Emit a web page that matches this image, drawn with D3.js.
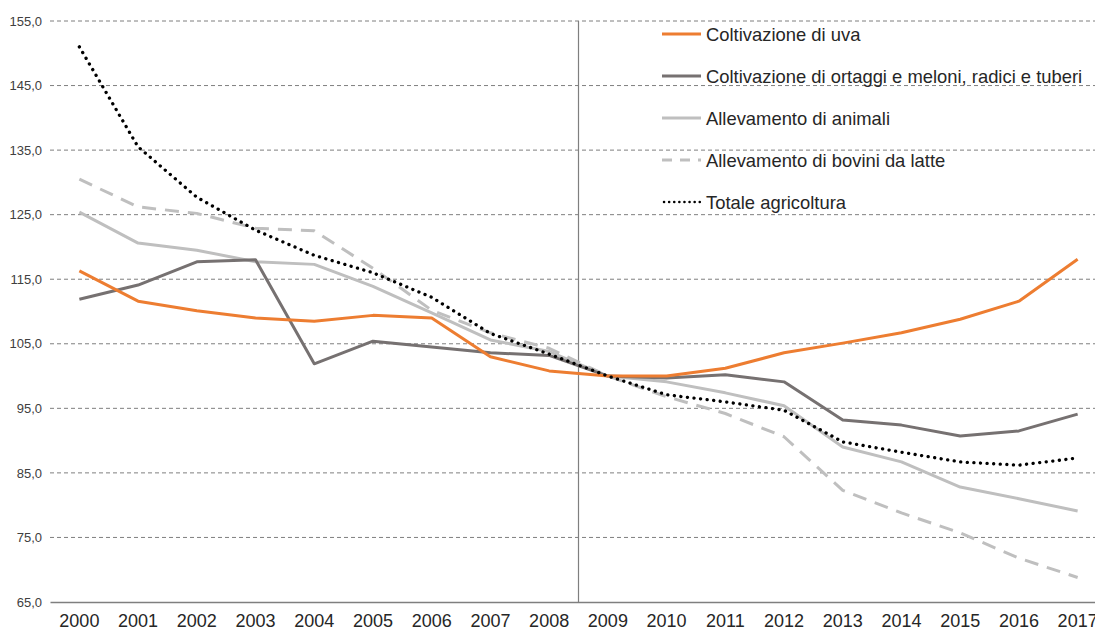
<!DOCTYPE html>
<html>
<head>
<meta charset="utf-8">
<script src="https://cdn.jsdelivr.net/npm/d3@7"></script>
<style>
  body { margin: 0; background: #fff; }
  text { font-family: "Liberation Sans", Arial, sans-serif; }
</style>
</head>
<body>
<svg></svg>
<script>
// data
var years = ["2000","2001","2002","2003","2004","2005","2006","2007","2008",
             "2009","2010","2011","2012","2013","2014","2015","2016","2017"];

var uva      = [116.3,111.6,110.1,109.0,108.5,109.4,109.0,103.0,100.8,100.0,100.0,101.2,103.6,105.1,106.7,108.8,111.6,118.1];
var ortaggi  = [111.9,114.1,117.7,118.0,101.9,105.4,104.5,103.6,103.2,100.0,99.7,100.2,99.1,93.2,92.4,90.7,91.5,94.1];
var animali  = [125.4,120.6,119.5,117.7,117.3,113.9,109.8,105.6,103.8,100.0,99.1,97.4,95.4,89.0,86.7,82.8,81.0,79.1];
var bovini   = [130.5,126.2,125.2,122.9,122.5,116.7,110.2,106.7,104.3,100.0,96.8,94.2,90.6,82.3,78.8,75.7,71.8,68.8];
var totale   = [151.0,135.5,127.7,122.6,118.7,116.0,112.2,106.6,103.4,100.0,97.1,96.0,94.7,89.8,88.2,86.7,86.2,87.3];

var yTicks = [65,75,85,95,105,115,125,135,145,155];

var seriesNames = ["Coltivazione di uva",
                   "Coltivazione di ortaggi e meloni, radici e tuberi",
                   "Allevamento di animali",
                   "Allevamento di bovini da latte",
                   "Totale agricoltura"];
var seriesValues = [uva, ortaggi, animali, bovini, totale];

//measurements
var screen = {width:1095, height:630};
var margins = {top:21, left:50, bottom:28};

var svg = d3.select("svg")
            .attr("width", screen.width)
            .attr("height", screen.height);

//scales
var xScale = d3.scaleBand()
               .domain(years)
               .range([margins.left, 1107]);

var yScale = d3.scaleLinear()
               .domain([65, 155])
               .range([screen.height - margins.bottom, margins.top]);

var fmt = function(v){ return d3.format(".1f")(v).replace(".", ","); };

//grid
svg.append("g")
   .selectAll("line")
   .data(yTicks.slice(1))
   .enter()
   .append("line")
   .attr("x1", margins.left)
   .attr("x2", screen.width)
   .attr("y1", function(d){return yScale(d)})
   .attr("y2", function(d){return yScale(d)})
   .attr("stroke", "#7f7f7f")
   .attr("stroke-width", 1)
   .attr("stroke-dasharray", "4,3");

//y labels
var yAxis = svg.append("g")
               .attr("transform", "translate(" + margins.left + ",0)")
               .call(d3.axisLeft(yScale).tickValues(yTicks).tickFormat(fmt).tickSize(0).tickPadding(8));
yAxis.select(".domain").remove();
yAxis.selectAll("text")
     .attr("font-size", 13)
     .attr("fill", "#404040")
     .style("font-family", "Liberation Sans, Arial, sans-serif");

//x axis
var xAxis = svg.append("g")
               .attr("transform", "translate(0," + yScale(65) + ")")
               .call(d3.axisBottom(xScale).tickSize(0).tickPadding(12));
xAxis.select(".domain")
     .attr("stroke", "#7f7f7f")
     .attr("stroke-width", 1.5);
xAxis.selectAll("text")
     .attr("font-size", 18)
     .attr("fill", "#262626")
     .style("font-family", "Liberation Sans, Arial, sans-serif");

//vertical separator between 2008 and 2009
svg.append("line")
   .attr("x1", xScale("2009"))
   .attr("x2", xScale("2009"))
   .attr("y1", yScale(155))
   .attr("y2", yScale(65))
   .attr("stroke", "#7f7f7f")
   .attr("stroke-width", 1.2);

//lines
var styles = [
  {color:"#ED7D31", dash:null, width:3, cap:"butt"},
  {color:"#767171", dash:null, width:3, cap:"butt"},
  {color:"#BFBFBF", dash:null, width:3, cap:"butt"},
  {color:"#BFBFBF", dash:"14,9", width:3, cap:"butt"},
  {color:"#000000", dash:"0.1,6.5", width:3.3, cap:"round"}
];

var line = d3.line()
             .x(function(d, i){ return xScale(years[i]) + xScale.bandwidth()/2; })
             .y(function(d){ return yScale(d); });

var drawOrder = [2, 3, 1, 0, 4];
drawOrder.forEach(function(k){
  svg.append("path")
     .datum(seriesValues[k])
     .attr("d", line)
     .attr("fill", "none")
     .attr("stroke", styles[k].color)
     .attr("stroke-width", styles[k].width)
     .attr("stroke-linecap", styles[k].cap)
     .attr("stroke-linejoin", "round")
     .attr("stroke-dasharray", styles[k].dash);
});

//legend
var legend = svg.append("g")
                .selectAll("g")
                .data(seriesNames)
                .enter()
                .append("g")
                .attr("transform", function(d, i){ return "translate(662," + (34 + i*42) + ")"; });

legend.append("line")
      .attr("x1", function(d, i){ return i == 4 ? 2 : 0; })
      .attr("x2", 39)
      .attr("y1", 0)
      .attr("y2", 0)
      .attr("stroke", function(d, i){ return styles[i].color; })
      .attr("stroke-width", function(d, i){ return i == 4 ? 2.5 : 3; })
      .attr("stroke-linecap", function(d, i){ return styles[i].cap; })
      .attr("stroke-dasharray", function(d, i){ return i == 3 ? "10,8" : (i == 4 ? "0.1,5" : null); });

legend.append("text")
      .attr("x", 44)
      .attr("y", 6.5)
      .attr("font-size", 18.4)
      .attr("fill", "#262626")
      .text(function(d){ return d; });
</script>
</body>
</html>
